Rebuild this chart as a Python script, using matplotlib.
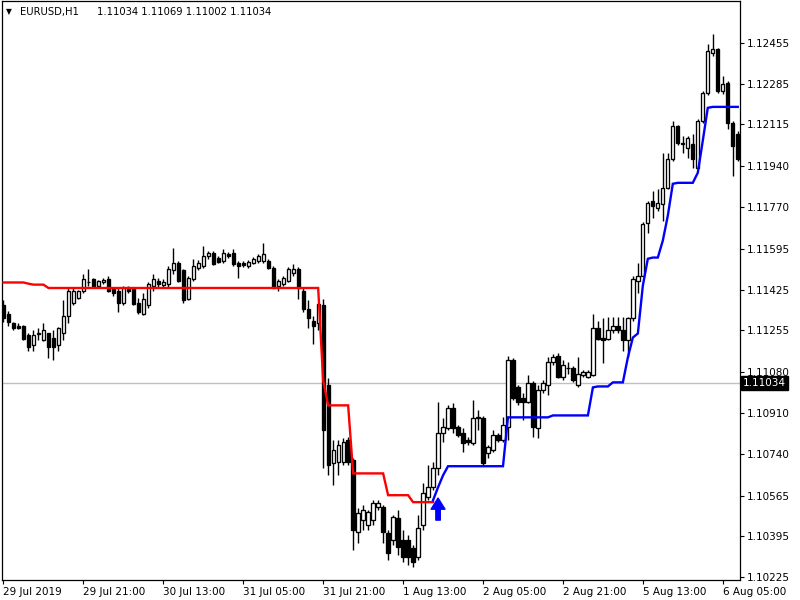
import numpy as np
import matplotlib
matplotlib.use("Agg")
import matplotlib.pyplot as plt
import matplotlib.transforms as mtransforms

symbol = "EURUSD,H1"
header_values = ["1.11034", "1.11069", "1.11002", "1.11034"]
current_price = 1.11034

opens = [
    1.11359, 1.11325, 1.11284, 1.11275, 1.11275, 1.11234, 1.11192, 1.11238, 1.11213, 1.11242,
    1.11225, 1.11192, 1.11242, 1.11317, 1.11371, 1.11392, 1.11421, 1.11455, 1.11471, 1.11442,
    1.11459, 1.11471, 1.11430, 1.11421, 1.11371, 1.11434, 1.11430, 1.11371, 1.11325, 1.11359,
    1.11442, 1.11463, 1.11446, 1.11450, 1.11505, 1.11538, 1.11505, 1.11388, 1.11471, 1.11517,
    1.11525, 1.11567, 1.11580, 1.11559, 1.11546, 1.11575, 1.11580, 1.11538, 1.11538, 1.11525,
    1.11538, 1.11546, 1.11546, 1.11546, 1.11517, 1.11442, 1.11450, 1.11463, 1.11496, 1.11513,
    1.11421, 1.11346, 1.11296, 1.11284, 1.11359, 1.11025, 1.10700, 1.10704, 1.10704, 1.10796,
    1.10713, 1.10413, 1.10463, 1.10442, 1.10463, 1.10517, 1.10517, 1.10409, 1.10379, 1.10471,
    1.10379, 1.10379, 1.10346, 1.10309, 1.10442, 1.10559, 1.10600, 1.10679, 1.10825, 1.10846,
    1.10929, 1.10850, 1.10825, 1.10796, 1.10784, 1.10888, 1.10888, 1.10742, 1.10754, 1.10817,
    1.10796, 1.10850, 1.11130, 1.11017, 1.10971, 1.10954, 1.11034, 1.10846, 1.11005, 1.11025,
    1.11121, 1.11150, 1.11059, 1.11100, 1.11096, 1.11025, 1.11067, 1.11059, 1.11067, 1.11263,
    1.11225, 1.11221, 1.11255, 1.11275, 1.11255, 1.11213, 1.11305, 1.11463, 1.11484, 1.11705,
    1.11796, 1.11767, 1.11784, 1.11851, 1.11971, 1.12109, 1.12038, 1.12017, 1.12034, 1.11934,
    1.12130, 1.12247, 1.12413, 1.12430, 1.12255, 1.12288, 1.12122, 1.12076,
]
highs = [
    1.11380, 1.11338, 1.11292, 1.11284, 1.11279, 1.11246, 1.11255, 1.11267, 1.11284, 1.11246,
    1.11255, 1.11271, 1.11380, 1.11430, 1.11430, 1.11425, 1.11492, 1.11513, 1.11475, 1.11467,
    1.11475, 1.11480, 1.11438, 1.11430, 1.11442, 1.11442, 1.11438, 1.11392, 1.11413, 1.11459,
    1.11492, 1.11475, 1.11471, 1.11525, 1.11600, 1.11546, 1.11513, 1.11484, 1.11554, 1.11550,
    1.11609, 1.11588, 1.11588, 1.11567, 1.11596, 1.11584, 1.11596, 1.11546, 1.11546, 1.11550,
    1.11563, 1.11575, 1.11621, 1.11554, 1.11525, 1.11471, 1.11484, 1.11521, 1.11534, 1.11521,
    1.11430, 1.11380, 1.11317, 1.11371, 1.11388, 1.11055, 1.10796, 1.10796, 1.10804, 1.10809,
    1.10721, 1.10513, 1.10525, 1.10504, 1.10546, 1.10546, 1.10525, 1.10421, 1.10484, 1.10504,
    1.10421, 1.10400, 1.10359, 1.10484, 1.10617, 1.10692, 1.10704, 1.10954, 1.10888, 1.10942,
    1.10950, 1.10858, 1.10846, 1.10809, 1.10963, 1.10921, 1.10896, 1.10775, 1.10838, 1.10825,
    1.10892, 1.11150, 1.11138, 1.11025, 1.10992, 1.11067, 1.11042, 1.11025, 1.11046, 1.11142,
    1.11155, 1.11159, 1.11130, 1.11121, 1.11105, 1.11142, 1.11088, 1.11088, 1.11325, 1.11296,
    1.11305, 1.11309, 1.11309, 1.11309, 1.11309, 1.11309, 1.11480, 1.11538, 1.11709, 1.11796,
    1.11838, 1.11846, 1.11996, 1.11996, 1.12130, 1.12113, 1.12067, 1.12067, 1.12076, 1.12138,
    1.12255, 1.12451, 1.12492, 1.12434, 1.12317, 1.12297, 1.12130, 1.12088,
]
lows = [
    1.11288, 1.11275, 1.11255, 1.11259, 1.11213, 1.11171, 1.11171, 1.11213, 1.11209, 1.11138,
    1.11130, 1.11171, 1.11213, 1.11284, 1.11359, 1.11384, 1.11413, 1.11442, 1.11438, 1.11438,
    1.11450, 1.11417, 1.11400, 1.11330, 1.11363, 1.11409, 1.11359, 1.11325, 1.11321, 1.11350,
    1.11421, 1.11434, 1.11438, 1.11434, 1.11492, 1.11455, 1.11371, 1.11380, 1.11463, 1.11505,
    1.11517, 1.11554, 1.11530, 1.11538, 1.11538, 1.11559, 1.11525, 1.11475, 1.11521, 1.11517,
    1.11534, 1.11538, 1.11538, 1.11513, 1.11430, 1.11421, 1.11442, 1.11455, 1.11484, 1.11388,
    1.11330, 1.11263, 1.11200, 1.11255, 1.10679, 1.10650, 1.10609, 1.10650, 1.10692, 1.10692,
    1.10338, 1.10367, 1.10421, 1.10421, 1.10442, 1.10504, 1.10367, 1.10296, 1.10359, 1.10317,
    1.10288, 1.10275, 1.10267, 1.10296, 1.10421, 1.10546, 1.10588, 1.10650, 1.10788, 1.10838,
    1.10825, 1.10809, 1.10746, 1.10775, 1.10775, 1.10838, 1.10692, 1.10721, 1.10746, 1.10788,
    1.10788, 1.10796, 1.10963, 1.10942, 1.10879, 1.10950, 1.10809, 1.10804, 1.10992, 1.10984,
    1.11109, 1.11055, 1.11046, 1.11075, 1.11038, 1.11017, 1.11059, 1.11055, 1.11063, 1.11213,
    1.11117, 1.11213, 1.11242, 1.11246, 1.11171, 1.11142, 1.11296, 1.11413, 1.11480, 1.11663,
    1.11726, 1.11755, 1.11713, 1.11846, 1.11963, 1.12030, 1.11996, 1.11975, 1.11934, 1.11930,
    1.12122, 1.12238, 1.12401, 1.12247, 1.12242, 1.12096, 1.11901, 1.11963,
]
closes = [
    1.11305, 1.11288, 1.11263, 1.11267, 1.11221, 1.11184, 1.11234, 1.11242, 1.11255, 1.11184,
    1.11184, 1.11263, 1.11317, 1.11421, 1.11421, 1.11421, 1.11471, 1.11459, 1.11442, 1.11463,
    1.11467, 1.11421, 1.11409, 1.11371, 1.11430, 1.11421, 1.11367, 1.11330, 1.11388, 1.11450,
    1.11471, 1.11450, 1.11455, 1.11513, 1.11538, 1.11463, 1.11380, 1.11475, 1.11525, 1.11538,
    1.11567, 1.11580, 1.11534, 1.11542, 1.11580, 1.11567, 1.11534, 1.11525, 1.11530, 1.11542,
    1.11554, 1.11567, 1.11575, 1.11517, 1.11434, 1.11463, 1.11475, 1.11513, 1.11513, 1.11430,
    1.11346, 1.11305, 1.11275, 1.11367, 1.10838, 1.10692, 1.10754, 1.10775, 1.10788, 1.10704,
    1.10421, 1.10492, 1.10504, 1.10496, 1.10534, 1.10534, 1.10413, 1.10325, 1.10475, 1.10350,
    1.10309, 1.10309, 1.10288, 1.10429, 1.10575, 1.10600, 1.10679, 1.10825, 1.10850, 1.10929,
    1.10846, 1.10817, 1.10784, 1.10788, 1.10888, 1.10892, 1.10700, 1.10767, 1.10817, 1.10796,
    1.10858, 1.11130, 1.10971, 1.10954, 1.10954, 1.11034, 1.10850, 1.11005, 1.11034, 1.11121,
    1.11142, 1.11059, 1.11109, 1.11096, 1.11046, 1.11075, 1.11080, 1.11080, 1.11263, 1.11221,
    1.11213, 1.11255, 1.11275, 1.11255, 1.11213, 1.11305, 1.11471, 1.11484, 1.11700, 1.11788,
    1.11775, 1.11788, 1.11851, 1.11971, 1.12109, 1.12038, 1.12034, 1.12059, 1.11971, 1.12130,
    1.12247, 1.12422, 1.12430, 1.12255, 1.12284, 1.12122, 1.12026, 1.11971,
]

# trend line (bearish part, bars 0..86)
red_line = [
    1.11455, 1.11455, 1.11455, 1.11455, 1.11455, 1.11450, 1.11446, 1.11446, 1.11446, 1.11432,
    1.11432, 1.11432, 1.11432, 1.11432, 1.11432, 1.11432, 1.11432, 1.11432, 1.11432, 1.11432,
    1.11432, 1.11432, 1.11432, 1.11432, 1.11432, 1.11432, 1.11432, 1.11432, 1.11432, 1.11432,
    1.11432, 1.11432, 1.11432, 1.11432, 1.11432, 1.11432, 1.11432, 1.11432, 1.11432, 1.11432,
    1.11432, 1.11432, 1.11432, 1.11432, 1.11432, 1.11432, 1.11432, 1.11432, 1.11432, 1.11432,
    1.11432, 1.11432, 1.11432, 1.11432, 1.11432, 1.11432, 1.11432, 1.11432, 1.11432, 1.11432,
    1.11432, 1.11432, 1.11432, 1.11432, 1.11046, 1.10942, 1.10942, 1.10942, 1.10942, 1.10942,
    1.10658, 1.10658, 1.10658, 1.10658, 1.10658, 1.10658, 1.10658, 1.10567, 1.10567, 1.10567,
    1.10567, 1.10567, 1.10538, 1.10538, 1.10538, 1.10538, 1.10538,
]
# trend line (bullish part, bars 86..147)
blue_start = 86
blue_line = [
    1.10546, 1.10600, 1.10650, 1.10688, 1.10688, 1.10688, 1.10688, 1.10688, 1.10688, 1.10688,
    1.10688, 1.10688, 1.10688, 1.10688, 1.10688, 1.10892, 1.10892, 1.10892, 1.10892, 1.10892,
    1.10892, 1.10892, 1.10892, 1.10892, 1.10900, 1.10900, 1.10900, 1.10900, 1.10900, 1.10900,
    1.10900, 1.10900, 1.11017, 1.11021, 1.11021, 1.11021, 1.11038, 1.11038, 1.11038, 1.11142,
    1.11225, 1.11242, 1.11442, 1.11554, 1.11559, 1.11559, 1.11630, 1.11734, 1.11867, 1.11871,
    1.11871, 1.11871, 1.11871, 1.11913, 1.12047, 1.12184, 1.12188, 1.12188, 1.12188, 1.12188,
    1.12188, 1.12188,
]
arrow_bar = 87
arrow_tip = 1.10555
arrow_base = 1.10463

x_tick_bars = [0, 16, 32, 48, 64, 80, 96, 112, 128, 144]
x_tick_labels = ["29 Jul 2019", "29 Jul 21:00", "30 Jul 13:00", "31 Jul 05:00", "31 Jul 21:00",
                 "1 Aug 13:00", "2 Aug 05:00", "2 Aug 21:00", "5 Aug 13:00", "6 Aug 05:00"]
y_ticks = [1.10225, 1.10395, 1.10565, 1.10740, 1.10910, 1.11080, 1.11255,
           1.11425, 1.11595, 1.11770, 1.11940, 1.12115, 1.12285, 1.12455]

plt.rcParams['font.family'] = ['DejaVu Sans']

fig = plt.figure(figsize=(8, 6), dpi=100)
ax = fig.add_axes([2 / 800, 20 / 600, 738 / 800, 579 / 600])

o = np.array(opens)
h = np.array(highs)
l = np.array(lows)
c = np.array(closes)
x = np.arange(len(o))
up = c >= o
bb = np.minimum(o, c)
bh = np.abs(c - o)

# current price line
ax.axhline(current_price, color="#C0C0C0", lw=1.0, zorder=1)

ax.vlines(x, l, h, color="black", lw=1.0, zorder=3)
ax.bar(x[up], bh[up], bottom=bb[up], width=0.66, facecolor="white",
       edgecolor="black", lw=0.95, zorder=4)
ax.bar(x[~up], bh[~up], bottom=bb[~up], width=0.66, facecolor="black",
       edgecolor="black", lw=0.95, zorder=4)

ax.plot(np.arange(len(red_line)), red_line, color="#FF0000", lw=1.7, zorder=5,
        solid_joinstyle="miter")
ax.plot(np.arange(blue_start, blue_start + len(blue_line)), blue_line, color="#0000FF",
        lw=1.7, zorder=5, solid_joinstyle="miter")

ax.annotate("", xy=(arrow_bar, arrow_tip), xytext=(arrow_bar, arrow_base),
            arrowprops=dict(arrowstyle="simple,head_length=0.8,head_width=1.0,tail_width=0.32",
                            color="#0000FF", mutation_scale=10, shrinkA=0, shrinkB=0),
            zorder=6)

ax.set_xlim(-0.3, 147.45)
ax.set_ylim(1.10213, 1.12630)

ax.yaxis.tick_right()
ax.set_yticks(y_ticks)
ax.set_yticklabels(["%.5f" % v for v in y_ticks])
ax.set_xticks(x_tick_bars)
ax.set_xticklabels(x_tick_labels)
for lbl in ax.get_xticklabels():
    lbl.set_horizontalalignment("left")
ax.tick_params(axis="y", direction="out", length=3, width=0.8, labelsize=7.5, pad=2,
               colors="black")
ax.tick_params(axis="x", direction="out", length=3, width=0.8, labelsize=7.5, pad=2,
               colors="black")
for s in ax.spines.values():
    s.set_color("black")
    s.set_linewidth(0.9)

# current price label on the axis
trans = mtransforms.blended_transform_factory(ax.transAxes, ax.transData)
ax.text(1.004, current_price, "%.5f" % current_price, transform=trans, color="white",
        fontsize=7.5, va="center", ha="left", zorder=10, clip_on=False,
        bbox=dict(facecolor="black", edgecolor="black", boxstyle="square,pad=0.2"))

# header
fig.text(6 / 800, 1 - 12 / 600, "\u25BC", fontsize=5.5, va="center", ha="left", color="black")
fig.text(20 / 800, 1 - 12 / 600, symbol, fontsize=7.2, va="center", ha="left", color="black")
fig.text(97 / 800, 1 - 12 / 600, " ".join(header_values), fontsize=7.2, va="center",
         ha="left", color="black")

fig.savefig("out.png", dpi=100)
